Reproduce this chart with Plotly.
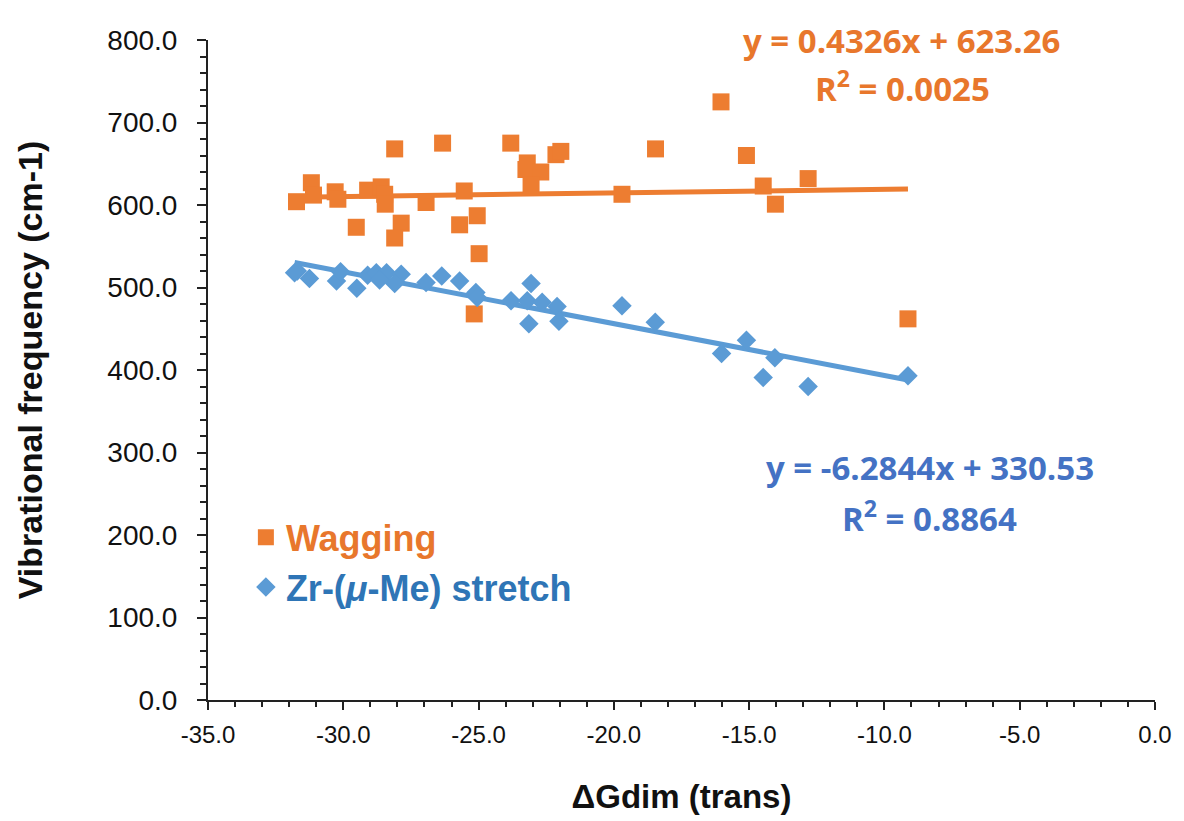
import plotly.graph_objects as go

# ---- data ----
wag_x = [-31.73, -31.18, -31.1, -30.3, -30.2, -29.52, -29.1, -28.6, -28.47, -28.45,
         -28.1, -27.86, -28.1, -26.94, -26.33, -25.53, -25.7, -25.05, -24.98, -25.16,
         -23.81, -23.2, -23.25, -22.7, -23.06, -22.14, -21.96, -19.7, -18.46, -16.04,
         -15.1, -14.48, -14.03, -12.82, -9.13]
wag_y = [604, 627, 612, 616, 607, 573, 618, 622, 613, 601,
         668, 578, 560, 603, 675, 617, 576, 587, 541, 468,
         675, 651, 643, 640, 624, 661, 665, 613, 668, 725,
         660, 623, 601, 632, 462]

str_x = [-31.7, -31.8, -31.25, -30.25, -30.1, -29.5, -29.1, -28.78, -28.4, -27.86,
         -28.66, -28.1, -26.94, -26.36, -25.7, -25.1, -25.05, -23.06, -23.8, -23.2,
         -22.65, -22.1, -23.14, -22.03, -19.7, -18.47, -16.02, -15.1, -14.05, -14.48,
         -12.82, -9.13]
str_y = [520, 518, 511, 508, 519, 499, 515, 518, 518, 516,
         509, 505, 506, 514, 508, 494, 488, 505, 484, 484,
         482, 477, 456, 459, 478, 458, 420, 436, 415, 391,
         380, 393]

# tick labels
x_ticks = [-35, -30, -25, -20, -15, -10, -5, 0]
x_tick_text = ["-35.0", "-30.0", "-25.0", "-20.0", "-15.0", "-10.0", "-5.0", "0.0"]
y_ticks = [0, 100, 200, 300, 400, 500, 600, 700, 800]
y_tick_text = ["0.0", "100.0", "200.0", "300.0", "400.0", "500.0", "600.0", "700.0", "800.0"]

# trendline coefficients (as printed on the chart)
wag_slope, wag_icpt, wag_r2 = 0.4326, 623.26, 0.0025
str_slope, str_icpt, str_r2 = -6.2844, 330.53, 0.8864

ORANGE = "#ED7D31"
BLUE = "#5B9BD5"
ORANGE_TXT = "#E8772C"
BLUE_TXT = "#4472C4"
LEG_BLUE = "#2E75B6"
AXIS = "#222222"
TXT = "#111111"

def trend(xs, m, b):
    lo, hi = min(xs), max(xs)
    return [lo, hi], [m * lo + b, m * hi + b]

fig = go.Figure()

tx, ty = trend(wag_x, wag_slope, wag_icpt)
fig.add_trace(go.Scatter(x=tx, y=ty, mode="lines", line=dict(color=ORANGE, width=5),
                         showlegend=False, hoverinfo="skip"))
tx, ty = trend(str_x, str_slope, str_icpt)
fig.add_trace(go.Scatter(x=tx, y=ty, mode="lines", line=dict(color=BLUE, width=5),
                         showlegend=False, hoverinfo="skip"))

fig.add_trace(go.Scatter(x=wag_x, y=wag_y, mode="markers",
                         name=f"<span style='color:{ORANGE_TXT}'><b>Wagging</b></span>",
                         legendgroup="a",
                         marker=dict(symbol="square", size=17, color=ORANGE)))
fig.add_trace(go.Scatter(x=str_x, y=str_y, mode="markers",
                         name=f"<span style='color:{LEG_BLUE}'><b>Zr-(<i>μ</i>-Me) stretch</b></span>",
                         legendgroup="b",
                         marker=dict(symbol="diamond", size=15, color=BLUE)))

EQ_FAMILY = "Open Sans, Lato, sans-serif"
eq_font = dict(family=EQ_FAMILY, size=33, color=ORANGE_TXT)
eq_font_b = dict(family=EQ_FAMILY, size=33, color=BLUE_TXT)

def fmt_sign(v):
    return f"+ {v:.2f}" if v >= 0 else f"- {abs(v):.2f}"

fig.add_annotation(x=0.732, y=1.000, xref="paper", yref="paper",
                   text=f"<b>y = {wag_slope:.4f}x {fmt_sign(wag_icpt)}</b>",
                   showarrow=False, font=eq_font, xanchor="center", yanchor="middle")
fig.add_annotation(x=0.733, y=0.929, xref="paper", yref="paper",
                   text=f"<b>R<sup>2</sup> = {wag_r2:.4f}</b>",
                   showarrow=False, font=eq_font, xanchor="center", yanchor="middle")
fig.add_annotation(x=0.762, y=0.352, xref="paper", yref="paper",
                   text=f"<b>y = {str_slope:.4f}x {fmt_sign(str_icpt)}</b>",
                   showarrow=False, font=eq_font_b, xanchor="center", yanchor="middle")
fig.add_annotation(x=0.762, y=0.278, xref="paper", yref="paper",
                   text=f"<b>R<sup>2</sup> = {str_r2:.4f}</b>",
                   showarrow=False, font=eq_font_b, xanchor="center", yanchor="middle")

# page body has an 8px margin: figure is sized/margined to compensate
fig.update_layout(
    width=1176, height=813,
    margin=dict(l=200, r=26, t=32, b=118),
    paper_bgcolor="white", plot_bgcolor="white",
    font=dict(family="Liberation Sans, Arial, sans-serif", color=TXT),
    legend=dict(x=0.040, y=0.292, xanchor="left", yanchor="top",
                font=dict(size=36, family="Liberation Sans, Arial, sans-serif"),
                bgcolor="rgba(0,0,0,0)", traceorder="grouped", tracegroupgap=0),
)
fig.update_xaxes(range=[-35, 0], tickmode="array", tickvals=x_ticks, ticktext=x_tick_text,
                 showgrid=False, zeroline=False, showline=True, linecolor=AXIS, linewidth=2,
                 ticks="outside", ticklen=8, tickwidth=2, tickcolor=AXIS,
                 minor=dict(dtick=1, tick0=0, ticks="outside", ticklen=5, tickwidth=1.5, tickcolor=AXIS),
                 tickfont=dict(size=24, color=TXT), ticklabelstandoff=4,
                 title=dict(text="<b>ΔGdim (trans)</b>", font=dict(size=33, color=TXT), standoff=38))
fig.update_yaxes(range=[0, 800], tickmode="array", tickvals=y_ticks, ticktext=y_tick_text,
                 showgrid=False, zeroline=False, showline=True, linecolor=AXIS, linewidth=2,
                 ticks="outside", ticklen=9, tickwidth=2, tickcolor=AXIS,
                 minor=dict(dtick=20, tick0=0, ticks="outside", ticklen=6, tickwidth=1.5, tickcolor=AXIS),
                 tickfont=dict(size=28, color=TXT), ticklabelstandoff=14,
                 title=dict(text="<b>Vibrational frequency (cm-1)</b>", font=dict(size=34, color=TXT), standoff=54))

fig.write_html("out.html")
